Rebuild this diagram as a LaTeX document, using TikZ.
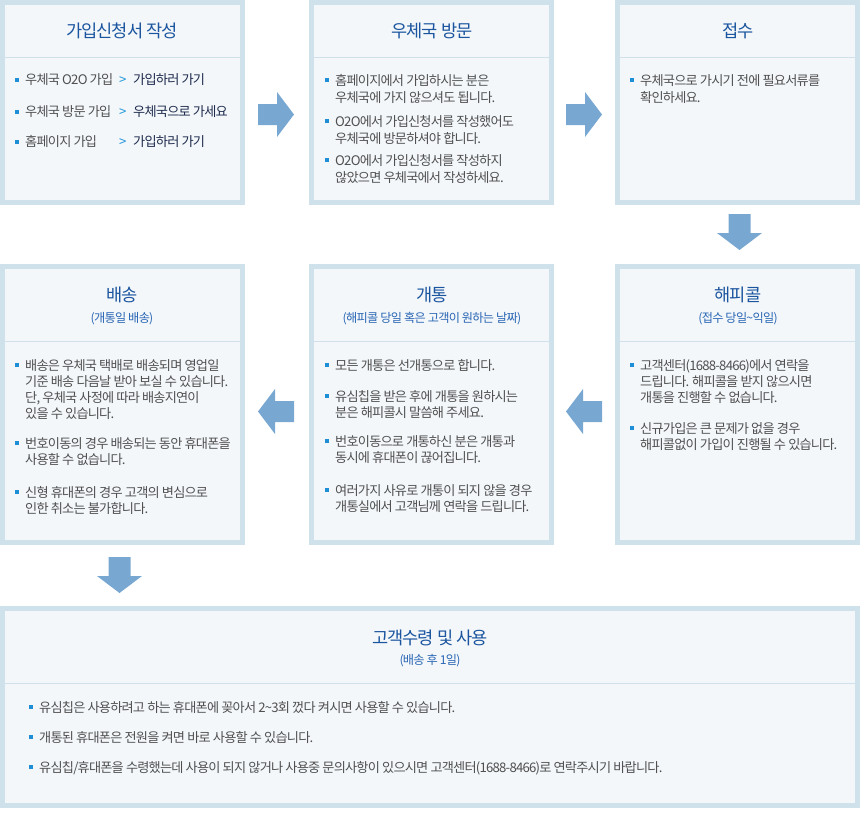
\documentclass[tikz,border=0pt]{standalone}
\usepackage{fontspec}
\setmainfont{Noto Sans CJK KR}[LetterSpace=-6]
\usepackage{tikz}
\usepackage{xcolor}

\definecolor{boxline}{HTML}{CFE2EB}
\definecolor{boxfill}{HTML}{F3F7FA}
\definecolor{divline}{HTML}{D0E1EB}
\definecolor{titleblue}{HTML}{1B559F}
\definecolor{subblue}{HTML}{2A66B4}
\definecolor{bodygray}{HTML}{505050}
\definecolor{linknavy}{HTML}{1F2B4D}
\definecolor{gtblue}{HTML}{2196D9}
\definecolor{bulletblue}{HTML}{1E8ED6}
\definecolor{arrowblue}{HTML}{78A7D2}

\newcommand\bul{\hspace*{-10pt}\textcolor{bulletblue}{\rule[2.9pt]{4pt}{4pt}}\hspace*{6pt}}

\begin{document}
\begin{tikzpicture}[x=1pt,y=-1pt,
    stepbox/.style={draw=boxline, line width=5pt, fill=boxfill, anchor=north west, inner sep=0pt},
    title/.style={text=titleblue, font=\fontsize{17.6}{20}\selectfont, inner sep=0pt},
    subtitle/.style={text=subblue, font=\fontsize{12.2}{14}\selectfont, inner sep=0pt},
    body/.style={text=bodygray, font=\fontsize{13.2}{16}\selectfont, align=left, anchor=north west, inner sep=0pt},
    row/.style={text=bodygray, font=\fontsize{13.2}{16}\selectfont, anchor=base west, inner sep=0pt},
    gt/.style={row, text=gtblue},
    link/.style={row, text=linknavy}]
    \useasboundingbox (0,0) rectangle (862,817);
    % boxes
    \node[stepbox, minimum width=240pt, minimum height=200pt] (apply) at (0,0) {};
    \node[stepbox, minimum width=240pt, minimum height=200pt] (visit) at (309,0) {};
    \node[stepbox, minimum width=240pt, minimum height=200pt] (receipt) at (615,0) {};
    \node[stepbox, minimum width=240pt, minimum height=276pt] (ship) at (0,264) {};
    \node[stepbox, minimum width=240pt, minimum height=276pt] (open) at (309,264) {};
    \node[stepbox, minimum width=240pt, minimum height=276pt] (happy) at (615,264) {};
    \node[stepbox, minimum width=855pt, minimum height=197pt] (recv) at (0,606) {};
    \foreach \a/\b/\y in {5/240/57, 314/549/57, 620/855/57, 5/240/341, 314/549/341, 620/855/341, 5/855/683}
        \draw[divline] (\a,\y) -- (\b,\y);

    % arrows
    \foreach \x in {258,566}
        \fill[arrowblue] (\x,104) -- (\x+19,104) -- (\x+19,92) -- (\x+36,114.5)
            -- (\x+19,137) -- (\x+19,125) -- (\x,125) -- cycle;
    \foreach \x in {258,566}
        \fill[arrowblue] (\x,411.5) -- (\x+17,389) -- (\x+17,401) -- (\x+36,401)
            -- (\x+36,422) -- (\x+17,422) -- (\x+17,434) -- cycle;
    \foreach \cx/\y in {739.5/214, 119.5/557}
        \fill[arrowblue] (\cx-11,\y) -- (\cx+11,\y) -- (\cx+11,\y+19) -- (\cx+22.5,\y+19)
            -- (\cx,\y+36) -- (\cx-22.5,\y+19) -- (\cx-11,\y+19) -- cycle;

    % titles
    \node[title] (applyT) at (122,31) {가입신청서 작성};
    \node[title] (visitT) at (432,31) {우체국 방문};
    \node[title] (receiptT) at (738,31) {접수};
    \node[title] (shipT) at (122,295) {배송};
    \node[subtitle] (shipS) at (122,319) {(개통일 배송)};
    \node[title] (openT) at (432,295) {개통};
    \node[subtitle] (openS) at (432,319) {(해피콜 당일 혹은 고객이 원하는 날짜)};
    \node[title] (happyT) at (738,295) {해피콜};
    \node[subtitle] (happyS) at (738,319) {(접수 당일\textasciitilde 익일)};
    \node[title] (recvT) at (430,638) {고객수령 및 사용};
    \node[subtitle] (recvS) at (430,661) {(배송 후 1일)};

    % 가입신청서 작성
    \node[row] (applyA) at (25,84.8) {\bul 우체국 O2O 가입};
    \node[gt] (applyAg) at (119,84.8) {>};
    \node[link] (applyAl) at (133,84.8) {가입하러 가기};
    \node[row] (applyB) at (25,116.5) {\bul 우체국 방문 가입};
    \node[gt] (applyBg) at (119,116.5) {>};
    \node[link] (applyBl) at (133,116.5) {우체국으로 가세요};
    \node[row] (applyC) at (25,146.5) {\bul 홈페이지 가입};
    \node[gt] (applyCg) at (119,146.5) {>};
    \node[link] (applyCl) at (133,146.5) {가입하러 가기};

    % 우체국 방문
    \node[body, font=\fontsize{13.2}{17}\selectfont] (visitA) at (335,73.9)
        {\bul 홈페이지에서 가입하시는 분은\\우체국에 가지 않으셔도 됩니다.};
    \node[body, font=\fontsize{13.2}{17}\selectfont] (visitB) at (335,114.9)
        {\bul O2O에서 가입신청서를 작성했어도\\우체국에 방문하셔야 합니다.};
    \node[body, font=\fontsize{13.2}{17}\selectfont] (visitC) at (335,153.9)
        {\bul O2O에서 가입신청서를 작성하지\\않았으면 우체국에서 작성하세요.};

    % 접수
    \node[body, font=\fontsize{13.2}{17}\selectfont] (receiptA) at (640,73.9)
        {\bul 우체국으로 가시기 전에 필요서류를\\확인하세요.};

    % 배송
    \node[body] (shipA) at (25,358.9)
        {\bul 배송은 우체국 택배로 배송되며 영업일\\기준 배송 다음날 받아 보실 수 있습니다.\\단, 우체국 사정에 따라 배송지연이\\있을 수 있습니다.};
    \node[body] (shipB) at (25,436.9)
        {\bul 번호이동의 경우 배송되는 동안 휴대폰을\\사용할 수 없습니다.};
    \node[body] (shipC) at (25,485.9)
        {\bul 신형 휴대폰의 경우 고객의 변심으로\\인한 취소는 불가합니다.};

    % 개통
    \node[body] (openA) at (335,358.9) {\bul 모든 개통은 선개통으로 합니다.};
    \node[body] (openB) at (335,389.9)
        {\bul 유심칩을 받은 후에 개통을 원하시는\\분은 해피콜시 말씀해 주세요.};
    \node[body] (openC) at (335,434.9)
        {\bul 번호이동으로 개통하신 분은 개통과\\동시에 휴대폰이 끊어집니다.};
    \node[body] (openD) at (335,483.9)
        {\bul 여러가지 사유로 개통이 되지 않을 경우\\개통실에서 고객님께 연락을 드립니다.};

    % 해피콜
    \node[body] (happyA) at (640,358.9)
        {\bul 고객센터(1688-8466)에서 연락을\\드립니다. 해피콜을 받지 않으시면\\개통을 진행할 수 없습니다.};
    \node[body] (happyB) at (640,421.9)
        {\bul 신규가입은 큰 문제가 없을 경우\\해피콜없이 가입이 진행될 수 있습니다.};

    % 고객수령 및 사용
    \node[body] (recvA) at (39,700.9)
        {\bul 유심칩은 사용하려고 하는 휴대폰에 꽂아서 2\textasciitilde 3회 껐다 켜시면 사용할 수 있습니다.};
    \node[body] (recvB) at (39,730.9)
        {\bul 개통된 휴대폰은 전원을 켜면 바로 사용할 수 있습니다.};
    \node[body] (recvC) at (39,760.9)
        {\bul 유심칩/휴대폰을 수령했는데 사용이 되지 않거나 사용중 문의사항이 있으시면 고객센터(1688-8466)로 연락주시기 바랍니다.};
\end{tikzpicture}
\end{document}
